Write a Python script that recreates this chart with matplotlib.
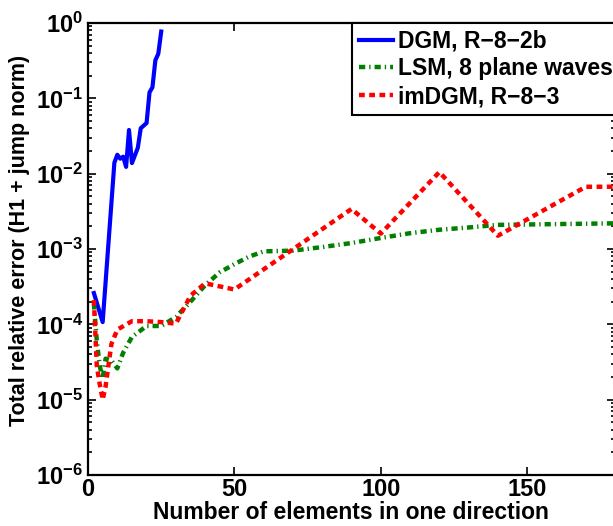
import numpy as np
import matplotlib.pyplot as plt
from matplotlib.ticker import LogLocator, FixedLocator

plt.rcParams['font.family'] = ['Liberation Sans', 'DejaVu Sans']
plt.rcParams['font.weight'] = 'bold'
plt.rcParams['mathtext.fontset'] = 'custom'
plt.rcParams['mathtext.rm'] = 'Liberation Sans:bold'
plt.rcParams['mathtext.it'] = 'Liberation Sans:bold'
plt.rcParams['mathtext.bf'] = 'Liberation Sans:bold'
plt.rcParams['mathtext.default'] = 'rm'

# DGM, R-8-2b
dgm_n = [2, 5, 9, 10, 11, 12, 13, 14, 15, 17, 18, 20, 21, 22, 23, 24, 25]
dgm_err = [2.6e-4, 1.07e-4, 1.4e-2, 1.78e-2, 1.58e-2, 1.68e-2, 1.23e-2, 3.8e-2,
           1.38e-2, 2.2e-2, 4.0e-2, 4.7e-2, 0.12, 0.14, 0.32, 0.39, 0.77]

# LSM, 8 plane waves
lsm_n = [2, 3, 4, 5, 6, 8, 10, 12, 15, 20, 25, 30, 35, 40, 45, 50, 55, 60, 70,
         80, 90, 100, 110, 120, 130, 140, 160, 180]
lsm_err = [1.9e-4, 6e-5, 2.8e-5, 1.9e-5, 3.5e-5, 3.3e-5, 2.6e-5, 4.2e-5, 6.8e-5,
           9.5e-5, 9.5e-5, 1.25e-4, 2.0e-4, 3.3e-4, 4.9e-4, 6.3e-4, 7.9e-4,
           9.3e-4, 9.5e-4, 1.06e-3, 1.2e-3, 1.4e-3, 1.62e-3, 1.8e-3, 1.93e-3,
           2.09e-3, 2.14e-3, 2.19e-3]

# imDGM, R-8-3
imdgm_n = [2, 3, 4, 5, 6, 7, 8, 10, 15, 20, 25, 30, 35, 40, 50, 90, 100, 120,
           140, 170, 180]
imdgm_err = [2.1e-4, 2.8e-5, 1.6e-5, 1.0e-5, 1.5e-5, 2.9e-5, 5.5e-5, 8.5e-5,
             1.1e-4, 1.1e-4, 1.07e-4, 1.02e-4, 2.4e-4, 3.5e-4, 2.9e-4, 3.4e-3,
             1.6e-3, 1.05e-2, 1.5e-3, 6.7e-3, 6.7e-3]

x_ticks = [0, 50, 100, 150]
y_ticks = [1e-6, 1e-5, 1e-4, 1e-3, 1e-2, 1e-1, 1e0]

fig = plt.figure(figsize=(6.13, 5.26), dpi=100)
ax = fig.add_axes([0.1436, 0.097, 0.8597, 0.8593])

ax.semilogy(dgm_n, dgm_err, color='b', linewidth=3, label='DGM, R\u22128\u22122b')
ax.semilogy(lsm_n, lsm_err, color='#008000', linewidth=3.2,
            linestyle=(0, (1.4, 0.9, 0.3, 0.9)), dash_capstyle='butt',
            label='LSM, 8 plane waves')
ax.semilogy(imdgm_n, imdgm_err, color='r', linewidth=3.2,
            linestyle=(0, (1.3, 1.0)), dash_capstyle='butt',
            label='imDGM, R\u22128\u22123')

ax.set_xlim(0, 180)
ax.set_ylim(1e-6, 1e0)
ax.xaxis.set_major_locator(FixedLocator(x_ticks))
ax.yaxis.set_major_locator(FixedLocator(y_ticks))
ax.yaxis.set_minor_locator(LogLocator(base=10, subs=np.arange(2, 10), numticks=20))
ax.set_yticklabels(['$10^{%d}$' % int(np.log10(v)) for v in y_ticks])

ax.tick_params(which='both', direction='in', top=True, right=True,
               labelsize=17, width=1.2)
ax.tick_params(which='major', length=6)
ax.tick_params(which='minor', length=3)
ax.tick_params(axis='x', pad=2)
for s in ax.spines.values():
    s.set_linewidth(1.6)

ax.set_xlabel('Number of elements in one direction', fontsize=16.5,
              fontweight='bold')
ax.xaxis.set_label_coords(0.499, -0.108)
ax.xaxis.label.set_va('bottom')
ax.set_ylabel('Total relative error (H1 + jump norm)', fontsize=15.5,
              fontweight='bold')
ax.yaxis.set_label_coords(-0.110, 0.518)

leg = ax.legend(loc='upper left', bbox_to_anchor=(0.501, 1.0), borderaxespad=0,
                fancybox=False, framealpha=1, edgecolor='black', fontsize=16.5,
                handlelength=1.5, handletextpad=0.2, labelspacing=0.2,
                borderpad=0.3)
leg.get_frame().set_linewidth(1.5)

plt.savefig('out.png', dpi=100)
